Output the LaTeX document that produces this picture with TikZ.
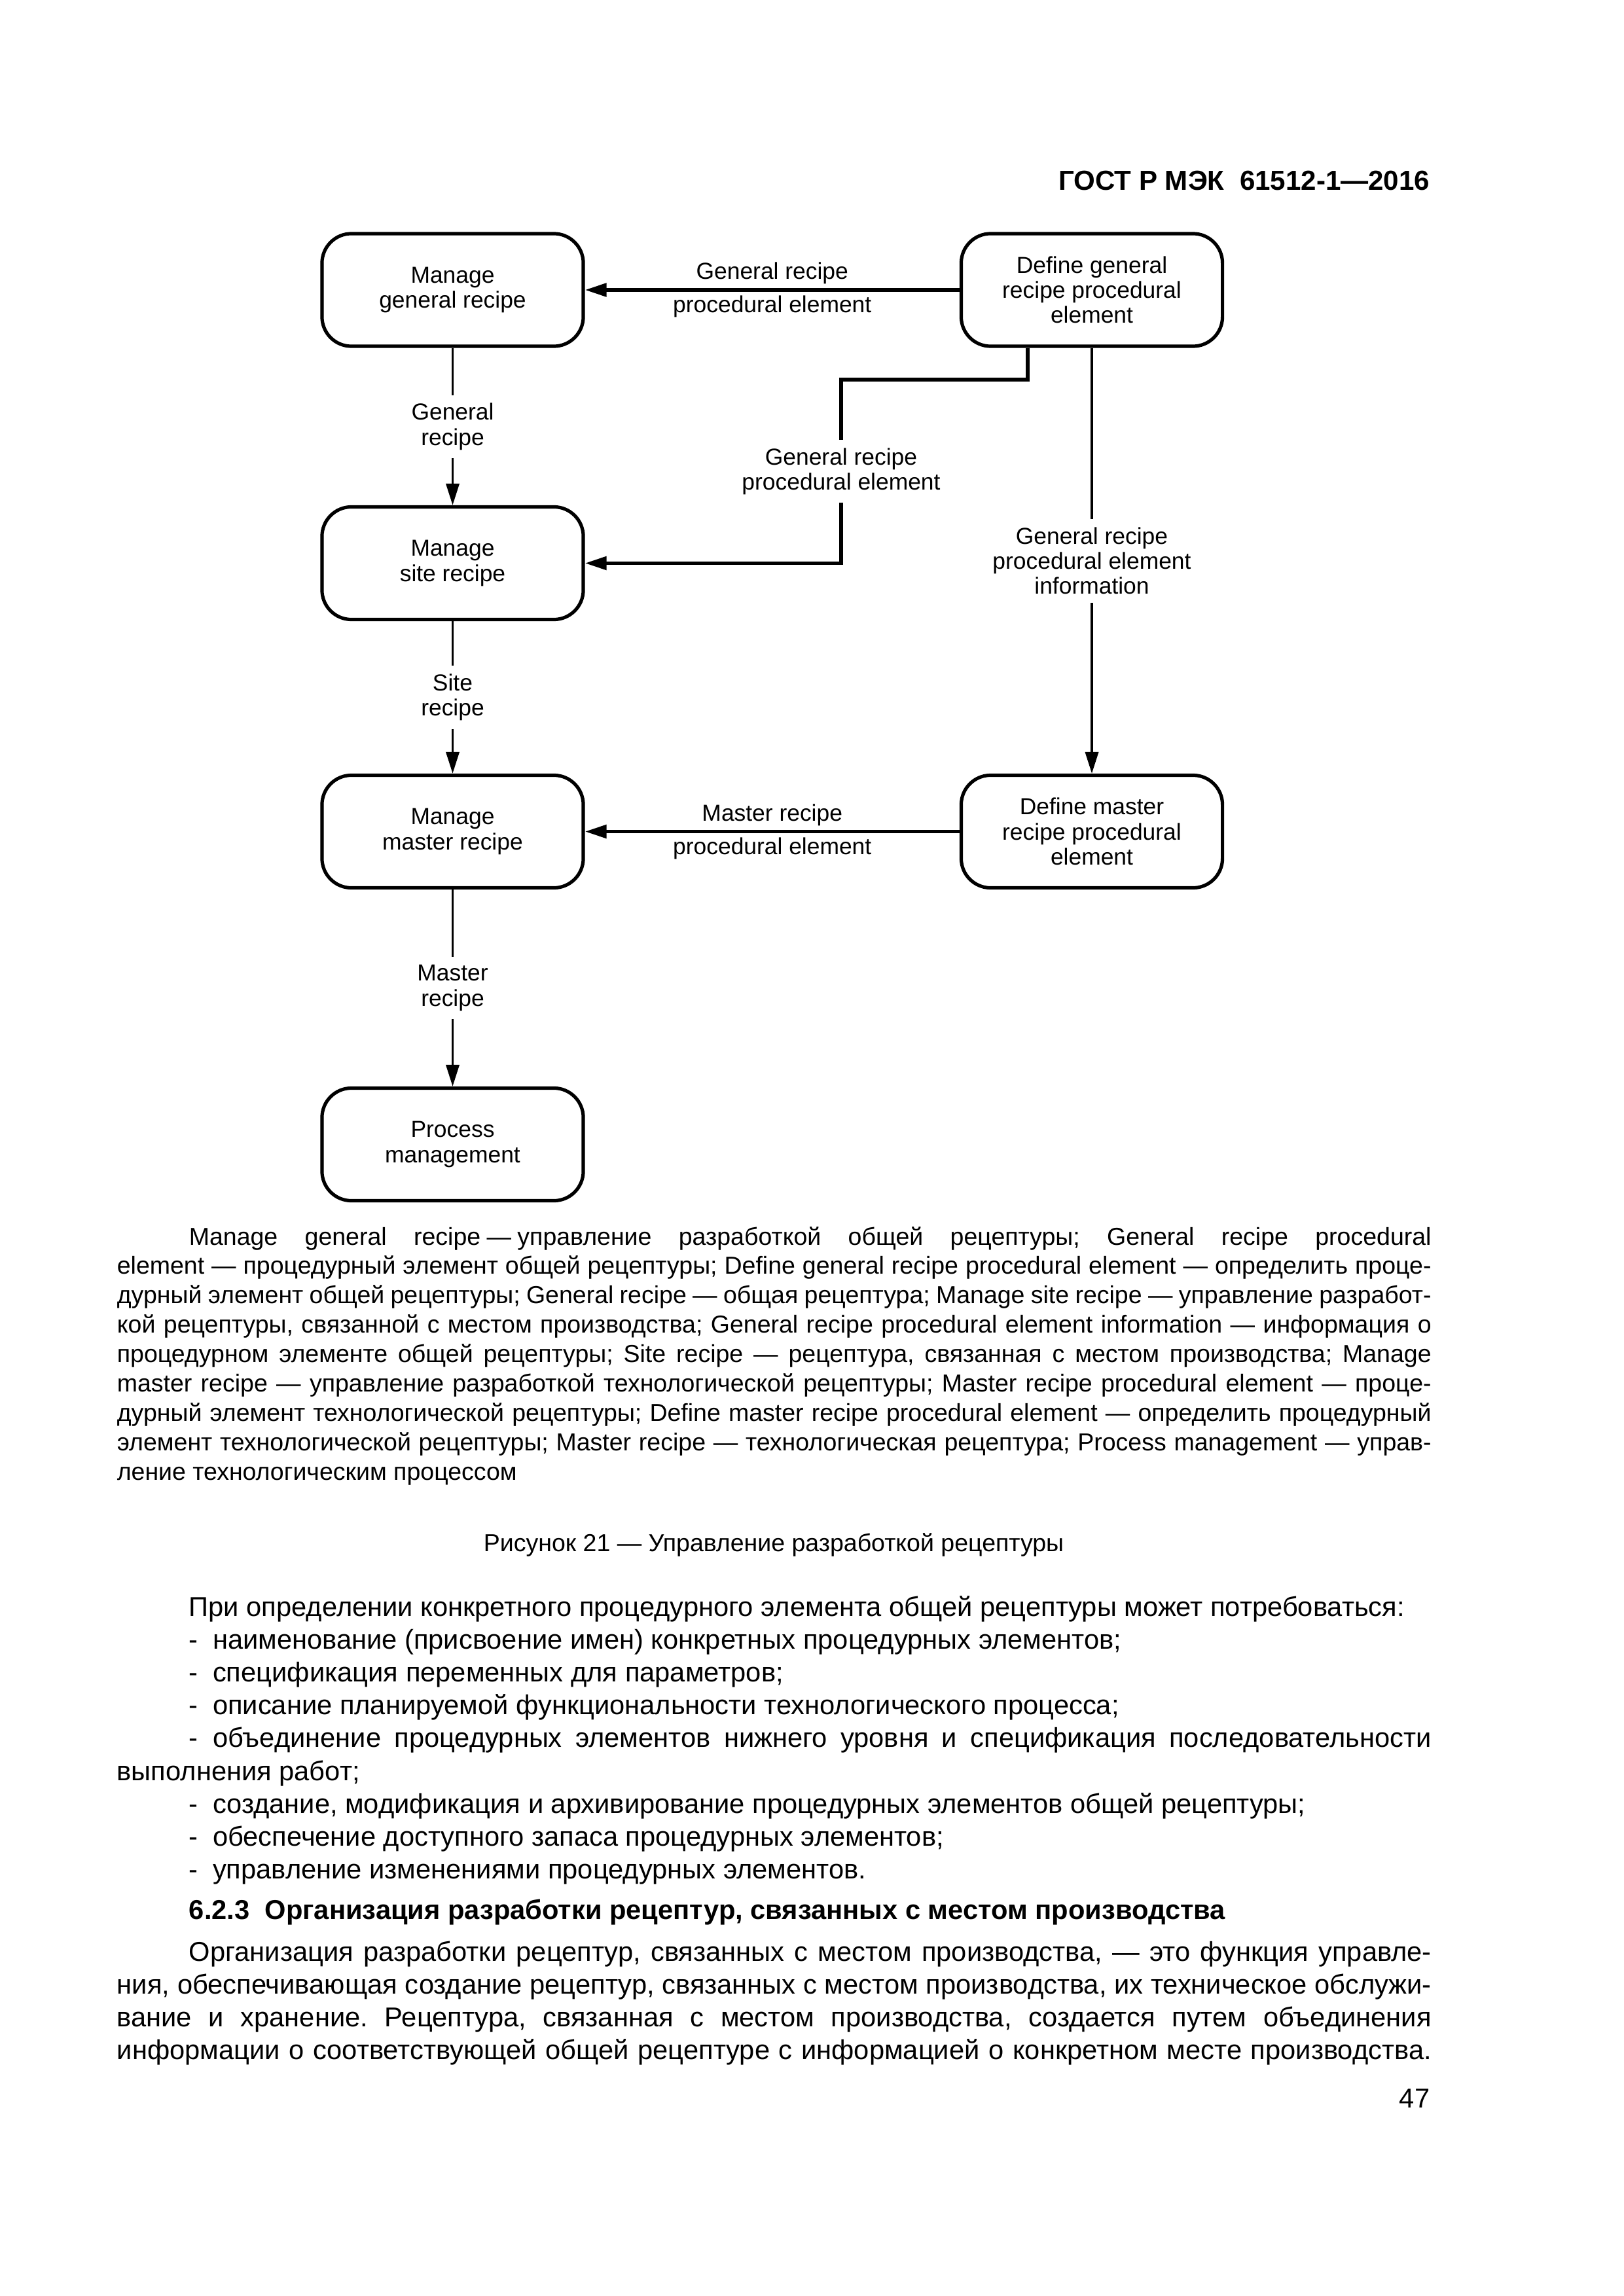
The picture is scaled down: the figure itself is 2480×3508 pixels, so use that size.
\documentclass[tikz,border=0pt]{standalone}
\usepackage{fontspec}
\setmainfont{Liberation Sans}
\usetikzlibrary{arrows.meta}
\frenchspacing
\newlength\fullw \setlength\fullw{481.9pt}
\newlength\indw \setlength\indw{455.5pt}
\newcommand\boxfont{\fontsize{8.5}{9.2}\selectfont}
\newcommand\legfont{\fontsize{9}{10.8}\selectfont}
\newcommand\bodyfont{\fontsize{10}{12}\selectfont}
\newcommand\mydash{\hspace{0.25em}—\hspace{0.25em}}
\newcommand\mybul{\makebox[8.7pt][l]{-}}
\newcommand\jfull[1]{\makebox[\fullw][s]{#1}}
\newcommand\jind[1]{\makebox[\indw][s]{#1}}
\begin{document}
\begin{tikzpicture}[x=0.24pt,y=-0.24pt,
  box/.style={draw, line width=1.25pt, rounded corners=10.8pt, minimum width=95.8pt, minimum height=41.3pt, align=center, font=\boxfont, inner sep=0pt},
  lbl/.style={fill=white, align=center, font=\boxfont, inner sep=3pt},
  hlbl/.style={align=center, font=\boxfont, inner sep=1.5pt},
  thickarr/.style={line width=1.3pt, -{Triangle[length=7.9pt,width=4.8pt]}},
  thinarr/.style={line width=0.85pt, -{Triangle[length=7.9pt,width=4.8pt]}},
  legtxt/.style={anchor=base west, inner sep=0pt, font=\legfont},
  bodytxt/.style={anchor=base west, inner sep=0pt, font=\bodyfont}]
\useasboundingbox (0,0) rectangle (2480,3508);
\fill[white] (0,0) rectangle (2480,3508);

% header
\node[anchor=base east, inner sep=0pt, font=\fontsize{10.1}{12}\selectfont\bfseries] (hdr) at (2185,291) {ГОСТ Р МЭК~~61512-1—2016};

% boxes
\node[box] (mgr) at (691.5,443) {Manage\\general recipe};
\node[box] (dgr) at (1668,443) {Define general\\recipe procedural\\element};
\node[box] (msr) at (691.5,860.5) {Manage\\site recipe};
\node[box] (mmr) at (691.5,1270.5) {Manage\\master recipe};
\node[box] (dmr) at (1668,1270.5) {Define master\\recipe procedural\\element};
\node[box] (pm) at (691.5,1748.5) {Process\\management};

% connectors
\draw[thickarr] (dgr) -- (mgr)
  node[midway, above, hlbl] {General recipe}
  node[midway, below, hlbl] {procedural element};
\coordinate (k1) at (1570,580);
\coordinate (k2) at (1285,580);
\draw[thickarr] (dgr.south -| k1) -- (k1) -- (k2)
  -- node[lbl] {General recipe\\procedural element} (k2 |- msr.east) -- (msr.east);
\draw[thinarr] (dgr) -- node[lbl] {General recipe\\procedural element\\information} (dmr);
\draw[thinarr] (mgr) -- node[lbl] {General\\recipe} (msr);
\draw[thinarr] (msr) -- node[lbl] {Site\\recipe} (mmr);
\draw[thickarr] (dmr) -- (mmr)
  node[midway, above, hlbl] {Master recipe}
  node[midway, below, hlbl] {procedural element};
\draw[thinarr] (mmr) -- node[lbl] {Master\\recipe} (pm);

% legend
\node[legtxt] (lg1) at (288,1902) {\jind{Manage general recipe\mydash управление разработкой общей рецептуры; General recipe procedural}};
\node[legtxt] (lg2) at (178,1946.9) {\jfull{element — процедурный элемент общей рецептуры; Define general recipe procedural element — определить проце-}};
\node[legtxt] (lg3) at (178,1991.8) {\jfull{дурный элемент общей рецептуры; General recipe — общая рецептура; Manage site recipe — управление разработ-}};
\node[legtxt] (lg4) at (178,2036.7) {\jfull{кой рецептуры, связанной с местом производства; General recipe procedural element information — информация о}};
\node[legtxt] (lg5) at (178,2081.6) {\jfull{процедурном элементе общей рецептуры; Site recipe — рецептура, связанная с местом производства; Manage}};
\node[legtxt] (lg6) at (178,2126.5) {\jfull{master recipe — управление разработкой технологической рецептуры; Master recipe procedural element — проце-}};
\node[legtxt] (lg7) at (178,2171.4) {\jfull{дурный элемент технологической рецептуры; Define master recipe procedural element — определить процедурный}};
\node[legtxt] (lg8) at (178,2216.3) {\jfull{элемент технологической рецептуры; Master recipe — технологическая рецептура; Process management — управ-}};
\node[legtxt] (lg9) at (178,2261.2) {ление технологическим процессом};

% caption
\node[anchor=base, inner sep=0pt, font=\legfont] (cap) at (1182,2370) {Рисунок 21 — Управление разработкой рецептуры};

% body
\node[bodytxt] (b0) at (288,2469) {При определении конкретного процедурного элемента общей рецептуры может потребоваться:};
\node[bodytxt] (b1) at (288,2519.2) {\mybul наименование (присвоение имен) конкретных процедурных элементов;};
\node[bodytxt] (b2) at (288,2569.4) {\mybul спецификация переменных для параметров;};
\node[bodytxt] (b3) at (288,2619.6) {\mybul описание планируемой функциональности технологического процесса;};
\node[bodytxt] (b4) at (288,2669.8) {\jind{\mybul объединение процедурных элементов нижнего уровня и спецификация последовательности}};
\node[bodytxt] (b5) at (178,2720) {выполнения работ;};
\node[bodytxt] (b6) at (288,2770.2) {\mybul создание, модификация и архивирование процедурных элементов общей рецептуры;};
\node[bodytxt] (b7) at (288,2820.4) {\mybul обеспечение доступного запаса процедурных элементов;};
\node[bodytxt] (b8) at (288,2870.6) {\mybul управление изменениями процедурных элементов.};
\node[bodytxt, font=\bodyfont\bfseries] (hd) at (288,2932) {6.2.3~~Организация разработки рецептур, связанных с местом производства};
\node[bodytxt] (p1) at (288,2996) {\jind{Организация разработки рецептур, связанных с местом производства, — это функция управле-}};
\node[bodytxt] (p2) at (178,3046) {\jfull{ния, обеспечивающая создание рецептур, связанных с местом производства, их техническое обслужи-}};
\node[bodytxt] (p3) at (178,3096) {\jfull{вание и хранение. Рецептура, связанная с местом производства, создается путем объединения}};
\node[bodytxt] (p4) at (178,3146) {\jfull{информации о соответствующей общей рецептуре с информацией о конкретном месте производства.}};
\node[anchor=base east, inner sep=0pt, font=\bodyfont] (pg) at (2185,3220) {47};
\end{tikzpicture}
\end{document}
